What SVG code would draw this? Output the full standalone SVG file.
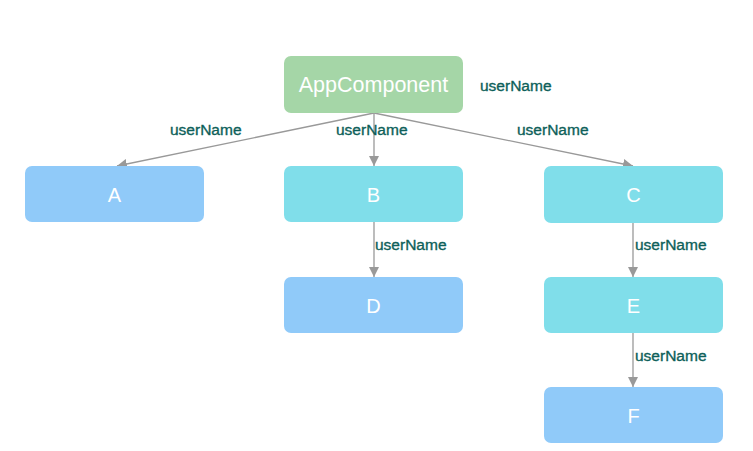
<svg xmlns="http://www.w3.org/2000/svg" width="753" height="451" viewBox="0 0 753 451">
<style>
.node text{font-family:"Liberation Sans",Arial,sans-serif;font-size:20px;fill:#ffffff;text-anchor:middle;dominant-baseline:central}
.green{fill:#a5d6a7}.blue{fill:#90caf9}.cyan{fill:#80deea}
.lbl{font-family:"Liberation Sans",Arial,sans-serif;font-size:15.5px;fill:#0d5f5a;stroke:#0d5f5a;stroke-width:0.35}
.edge{stroke:#999999;stroke-width:1.3;fill:none;marker-end:url(#arr)}
</style>
<defs>
<marker id="arr" viewBox="0 0 10 10" refX="10" refY="5" markerWidth="10" markerHeight="10" markerUnits="userSpaceOnUse" orient="auto">
<path d="M0,0 L10,5 L0,10 z" fill="#999999"/>
</marker>
</defs>
<rect width="753" height="451" fill="#ffffff"/>
<g id="connectors">
<path class="edge" d="M374,113 L117,166"/>
<path class="edge" d="M374,113 L374,166"/>
<path class="edge" d="M374,113 L633,166"/>
<path class="edge" d="M374,222 L374,277"/>
<path class="edge" d="M633,223 L633,277"/>
<path class="edge" d="M633,333 L633,387"/>
<text class="lbl" x="170" y="135">userName</text>
<text class="lbl" x="336" y="135">userName</text>
<text class="lbl" x="517" y="135">userName</text>
<text class="lbl" x="375" y="250">userName</text>
<text class="lbl" x="635" y="250">userName</text>
<text class="lbl" x="635" y="361">userName</text>
</g>
<g id="AppComponent" class="node"><rect class="green" x="284" y="56" width="179" height="57" rx="7"/><text x="373.5" y="85" style="font-size:21.5px">AppComponent</text></g>
<text class="lbl" x="480" y="91">userName</text>
<g id="A" class="node"><rect class="blue" x="25" y="166" width="179" height="56" rx="7"/><text x="114.5" y="195">A</text></g>
<g id="B" class="node"><rect class="cyan" x="284" y="166" width="179" height="56" rx="7"/><text x="373.5" y="195">B</text></g>
<g id="C" class="node"><rect class="cyan" x="544" y="166" width="179" height="57" rx="7"/><text x="633.5" y="195">C</text></g>
<g id="D" class="node"><rect class="blue" x="284" y="277" width="179" height="56" rx="7"/><text x="373.5" y="306">D</text></g>
<g id="E" class="node"><rect class="cyan" x="544" y="277" width="179" height="56" rx="7"/><text x="633.5" y="306">E</text></g>
<g id="F" class="node"><rect class="blue" x="544" y="387" width="179" height="56" rx="7"/><text x="633.5" y="416">F</text></g>
</svg>
